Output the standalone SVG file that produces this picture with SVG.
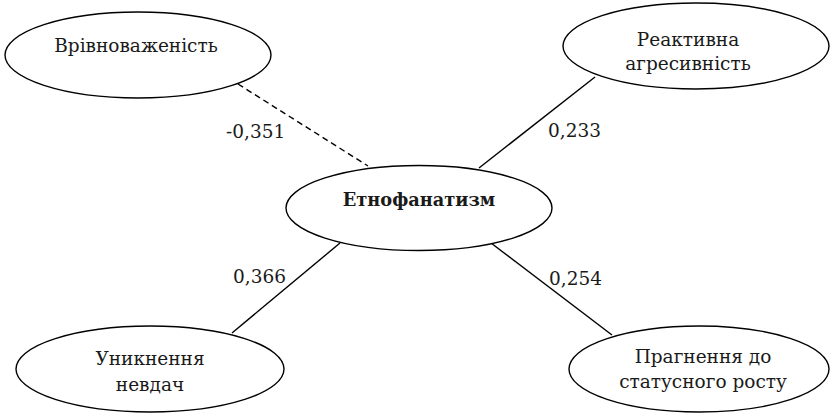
<svg xmlns="http://www.w3.org/2000/svg" width="832" height="413" viewBox="0 0 832 413">
<style>
.n{fill:#fff;stroke:#000;stroke-width:1.4}
text{font-family:'DejaVu Serif',serif;font-size:18.5px;fill:#1a1a1a}
.t{text-anchor:middle}
.b{font-weight:bold;font-size:17.8px}
.c{stroke:#000;stroke-width:1.4;fill:none}
</style>
<rect width="832" height="413" fill="#fff"/>
<g id="connectors">
<line class="c" x1="238" y1="84" x2="368" y2="166" stroke-dasharray="6,4"/>
<line class="c" x1="595" y1="77" x2="479" y2="168"/>
<line class="c" x1="340" y1="243" x2="232" y2="333"/>
<line class="c" x1="491" y1="243" x2="612" y2="335"/>
<text x="226" y="138">-0,351</text>
<text x="548" y="137">0,233</text>
<text x="233" y="283">0,366</text>
<text x="549" y="285">0,254</text>
</g>
<g id="n-vrivnovazhenist">
<ellipse class="n" cx="138" cy="55" rx="133" ry="43"/>
<text class="t" x="136" y="52">Врівноваженість</text>
</g>
<g id="n-reaktyvna">
<ellipse class="n" cx="696" cy="46" rx="133" ry="43"/>
<text class="t" x="688" y="46">Реактивна</text>
<text class="t" x="688" y="70">агресивність</text>
</g>
<g id="n-etnofanatyzm">
<ellipse class="n" cx="419" cy="208" rx="133" ry="42.5"/>
<text class="t b" x="419" y="206">Етнофанатизм</text>
</g>
<g id="n-unyknennia">
<ellipse class="n" cx="150" cy="369" rx="134" ry="43"/>
<text class="t" x="150" y="365">Уникнення</text>
<text class="t" x="150" y="391">невдач</text>
</g>
<g id="n-prahnennia">
<ellipse class="n" cx="699" cy="369" rx="130" ry="43"/>
<text class="t" x="703" y="363">Прагнення до</text>
<text class="t" x="703" y="388">статусного росту</text>
</g>
</svg>
